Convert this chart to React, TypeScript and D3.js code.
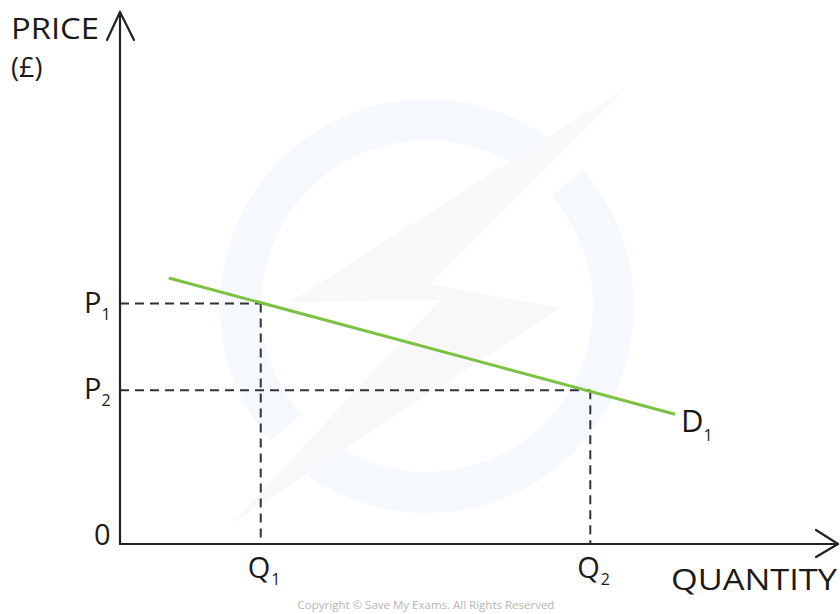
import React from "react";
import * as d3 from "d3";

const W = 840;
const H = 614;

// Data (quantity 0..100, price 0..100)
const demandQ = [6.8, 77.3];
const demandP = [50.0, 24.4];
const markQ = [19.6, 65.5];
const markP = [45.2, 28.9];
const priceLabels = ["P", "P"];
const priceSubs = ["1", "2"];
const qtyLabels = ["Q", "Q"];
const qtySubs = ["1", "2"];
const demandLabel = "D";
const demandSub = "1";

const FONT = "'Open Sans', 'DejaVu Sans', sans-serif";

export default function App() {
  const x = d3.scaleLinear().domain([0, 100]).range([120, 838]);
  const y = d3.scaleLinear().domain([0, 100]).range([544, 12]);
  const x0 = x(0);
  const y0 = y(0);

  const demandPts: [number, number][] = demandQ.map((q, i) => [x(q), y(demandP[i])]);
  const line = d3.line();

  const ring = d3.arc()({
    innerRadius: 166,
    outerRadius: 207,
    startAngle: 0.85,
    endAngle: 3.75,
  } as any) as string;
  const ring2 = d3.arc()({
    innerRadius: 166,
    outerRadius: 207,
    startAngle: 4.0,
    endAngle: 6.9,
  } as any) as string;
  const bolt = [
    [627, 87],
    [290, 302],
    [440, 300],
    [232, 523],
    [560, 308],
    [430, 284],
  ];

  return (
    <svg width={W} height={H} style={{ display: "block", position: "absolute", left: 0, top: 0 }}>
      <rect width={W} height={H} fill="#ffffff" />
      {/* watermark */}
      <g transform="translate(427,306)">
        <path d={ring} fill="#f5f9fd" />
        <path d={ring2} fill="#f5f9fd" />
      </g>
      <polygon points={bolt.map((p) => p.join(",")).join(" ")} fill="#f8f8fa" />

      {/* dashed guides */}
      {markQ.map((q, i) => (
        <g key={i} stroke="#333" strokeWidth={2} strokeDasharray="9,6" fill="none">
          <line x1={x0} y1={y(markP[i])} x2={x(q)} y2={y(markP[i])} />
          <line x1={x(q)} y1={y(markP[i])} x2={x(q)} y2={y0} />
        </g>
      ))}

      {/* demand */}
      <path d={line(demandPts) as string} stroke="#7cc242" strokeWidth={3} fill="none" />

      {/* axes */}
      <g stroke="#222" strokeWidth={2.2} fill="none" strokeLinecap="round" strokeLinejoin="round">
        <line x1={x0} y1={y0} x2={x0} y2={y(100)} />
        <line x1={x0} y1={y0} x2={x(100)} y2={y0} />
        <polyline points={`${x0 - 13},${y(100) + 28} ${x0},${y(100)} ${x0 + 14},${y(100) + 28}`} />
        <polyline points={`${x(100) - 22},${y0 - 14} ${x(100)},${y0} ${x(100) - 22},${y0 + 13}`} />
      </g>

      <g fontFamily={FONT} fill="#1a1a1a">
        <text x={11} y={39} fontSize={29} textLength={88} lengthAdjust="spacingAndGlyphs">PRICE</text>
        <text x={11} y={77} fontSize={27}>(£)</text>
        <text x={94} y={545} fontSize={29}>0</text>
        {markP.map((p, i) => (
          <text key={i} x={84} y={y(p) + 9} fontSize={29}>
            {priceLabels[i]}
            <tspan fontSize={16} dy={7}>{priceSubs[i]}</tspan>
          </text>
        ))}
        {markQ.map((q, i) => (
          <text key={i} x={x(q) - 13} y={578} fontSize={29}>
            {qtyLabels[i]}
            <tspan fontSize={16} dy={7} dx={1}>{qtySubs[i]}</tspan>
          </text>
        ))}
        <text x={671} y={590} fontSize={30} textLength={166} lengthAdjust="spacingAndGlyphs">QUANTITY</text>
        <text x={681} y={432} fontSize={31}>
          {demandLabel}
          <tspan fontSize={16} dy={9}>{demandSub}</tspan>
        </text>
      </g>
      <text x={426} y={609} fontSize={11.5} textAnchor="middle" fill="#b5b5b5" fontFamily={FONT}>
        Copyright © Save My Exams. All Rights Reserved
      </text>
    </svg>
  );
}
